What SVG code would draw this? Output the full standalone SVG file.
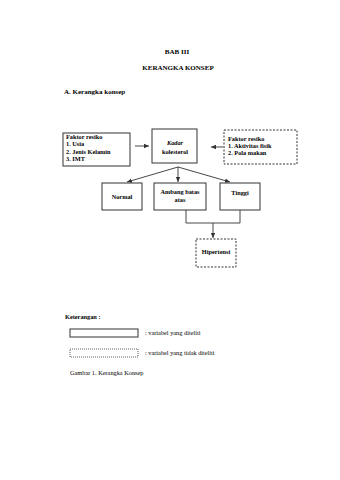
<svg xmlns="http://www.w3.org/2000/svg" width="340" height="480" viewBox="0 0 340 480">
<style>
text{font-family:"Liberation Serif","Times New Roman",serif;fill:#000;font-size:6.5px}
.h{font-weight:bold;font-size:7px}
.b{font-weight:bold;font-size:6.3px}
.n{font-size:6.3px}
.box{fill:#fff;stroke:#333;stroke-width:1}
.dash{fill:#fff;stroke:#333;stroke-width:1;stroke-dasharray:2,1.5}
.c{fill:none;stroke:#333;stroke-width:0.9}
</style>
<defs>
<marker id="ah" markerWidth="6" markerHeight="6" refX="5" refY="3" orient="auto" markerUnits="userSpaceOnUse">
<path d="M0,0.8 L5,3 L0,5.2 z" fill="#333"/>
</marker>
</defs>
<rect width="340" height="480" fill="#fff"/>
<g id="title">
<text class="h" x="177" y="54" text-anchor="middle">BAB III</text>
<text class="h" x="178" y="70" text-anchor="middle">KERANGKA KONSEP</text>
<text class="h" x="64" y="94">A.  Kerangka konsep</text>
</g>
<g id="connectors">
<line class="c" x1="135" y1="146" x2="149" y2="146" marker-end="url(#ah)"/>
<line class="c" x1="223" y1="147" x2="211" y2="147" marker-end="url(#ah)"/>
<line class="c" x1="178" y1="167" x2="127" y2="182" marker-end="url(#ah)"/>
<line class="c" x1="178" y1="167" x2="178" y2="182" marker-end="url(#ah)"/>
<line class="c" x1="178" y1="167" x2="230" y2="182" marker-end="url(#ah)"/>
<polyline class="c" points="186,210 186,223 240,223 240,210"/>
<line class="c" x1="213" y1="223" x2="213" y2="238" marker-end="url(#ah)"/>
</g>
<g id="faktor1">
<rect class="box" x="63" y="133" width="67" height="33"/>
<text class="b" x="66" y="139">Faktor resiko</text>
<text class="b" x="66" y="146">1.  Usia</text>
<text class="b" x="66" y="154">2.  Jenis Kelamin</text>
<text class="b" x="66" y="161">3.  IMT</text>
</g>
<g id="kadar">
<rect class="box" x="152" y="129" width="45" height="34"/>
<text class="b" x="175" y="145" text-anchor="middle" font-style="italic">Kadar</text>
<text class="b" x="175" y="154" text-anchor="middle">kolesterol</text>
</g>
<g id="faktor2">
<rect class="dash" x="224" y="130" width="73" height="34"/>
<text class="b" x="228" y="141">Faktor resiko</text>
<text class="b" x="228" y="148">1.   Aktivitas fisik</text>
<text class="b" x="228" y="155">2.   Pola makan</text>
</g>
<g id="normal">
<rect class="box" x="102" y="183" width="40" height="27"/>
<text class="b" x="122" y="199" text-anchor="middle">Normal</text>
</g>
<g id="ambang">
<rect class="box" x="154" y="183" width="52" height="27"/>
<text class="b" x="180" y="194" text-anchor="middle">Ambang batas</text>
<text class="b" x="180" y="202" text-anchor="middle">atas</text>
</g>
<g id="tinggi">
<rect class="box" x="220" y="183" width="40" height="27"/>
<text class="b" x="240" y="195" text-anchor="middle">Tinggi</text>
</g>
<g id="hipertensi">
<rect class="dash" x="196" y="239" width="40" height="28"/>
<text class="b" x="216" y="254" text-anchor="middle">Hipertensi</text>
</g>
<g id="legend">
<text class="b" x="65" y="319">Keterangan :</text>
<rect class="box" x="70" y="329" width="68" height="8"/>
<text class="n" x="145" y="335">: variabel yang diteliti</text>
<rect x="70" y="349" width="68" height="8" fill="#fff" stroke="#333" stroke-width="0.8" stroke-dasharray="1,1"/>
<text class="n" x="145" y="355">: variabel yang tidak diteliti</text>
<text class="n" x="70" y="375">Gambar 1. Kerangka Konsep</text>
</g>
</svg>
